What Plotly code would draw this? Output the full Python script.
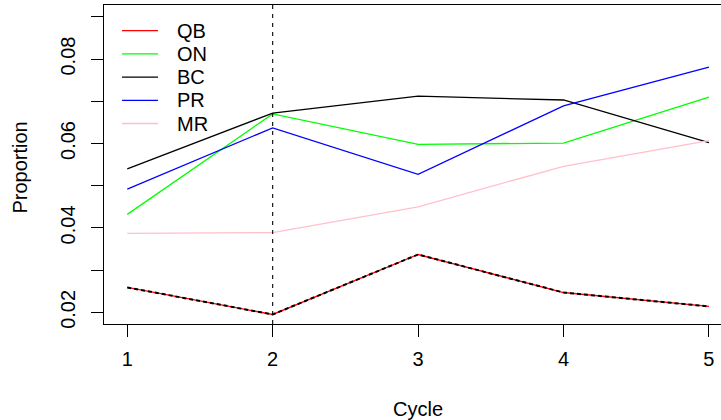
import plotly.graph_objects as go

# ---- data ----
cycles = [1, 2, 3, 4, 5]
qb = [0.0259, 0.0195, 0.0337, 0.0247, 0.0214]
on = [0.0432, 0.0670, 0.0598, 0.0601, 0.0710]
bc = [0.0540, 0.0672, 0.0712, 0.0703, 0.0602]
pr = [0.0492, 0.0637, 0.0527, 0.0689, 0.0781]
mr = [0.0387, 0.0389, 0.0450, 0.0546, 0.0607]
series_names = ["QB", "ON", "BC", "PR", "MR"]
series_colors = ["#FF0000", "#00FF00", "#000000", "#0000FF", "#FFC0CB"]
cutoff_cycle = 2
y_tick_vals = [0.02, 0.03, 0.04, 0.05, 0.06, 0.07, 0.08, 0.09]
y_tick_text = ["0.02", "", "0.04", "", "0.06", "", "0.08", ""]
x_tick_vals = [1, 2, 3, 4, 5]

FONT = "Liberation Sans, Arial, Helvetica, sans-serif"
FS = 20
LW = 1.3
W, H = 721, 420
ML, MR_, MT, MB = 104, 0, 5, 96
PW, PH = W - ML - MR_, H - MT - MB


def px_x(p):
    return (p - ML) / PW


def px_y(p):
    return 1 - (p - MT) / PH


fig = go.Figure()
for name, vals, col in zip(series_names, [qb, on, bc, pr, mr], series_colors):
    fig.add_trace(go.Scatter(x=cycles, y=vals, mode="lines", name=name,
                             line=dict(color=col, width=LW), showlegend=False))
# dashed black overlay on QB
fig.add_trace(go.Scatter(x=cycles, y=qb, mode="lines", showlegend=False,
                         line=dict(color="black", width=2, dash="4px,3px"),
                         hoverinfo="skip"))

annotations = [
    dict(text="Cycle", xref="x", x=3, yref="paper", y=0, yshift=-85,
         xanchor="center", yanchor="middle", showarrow=False,
         font=dict(size=FS)),
    dict(text="Proportion", xref="paper", x=0, xshift=-84, yref="y", y=0.055,
         yshift=-3, xanchor="center", yanchor="middle", textangle=-90,
         showarrow=False, font=dict(size=FS)),
]

fig.update_layout(
    width=W, height=H,
    margin=dict(l=ML, r=MR_, t=MT, b=MB),
    paper_bgcolor="white", plot_bgcolor="white",
    font=dict(family=FONT, size=FS, color="black"),
    showlegend=False,
    annotations=annotations,
)

# legend (R style, no box)
leg_top, leg_step = 30.7, 23.2
for i, (name, col) in enumerate(zip(series_names, series_colors)):
    yc = px_y(leg_top + i * leg_step)
    fig.add_shape(type="line", xref="paper", yref="paper",
                  x0=px_x(122), x1=px_x(158), y0=yc, y1=yc,
                  line=dict(color=col, width=LW))
    fig.add_annotation(text=name, xref="paper", yref="paper",
                       x=px_x(175), y=yc, xanchor="left", yanchor="middle",
                       showarrow=False, font=dict(size=FS))

fig.add_vline(x=cutoff_cycle, line=dict(color="black", width=1.1, dash="4px,5px"))

fig.update_xaxes(range=[0.84, 5.083], tickvals=x_tick_vals, ticks="outside",
                 ticklen=12, tickwidth=1.2, tickcolor="black",
                 showline=True, linecolor="black", linewidth=1.2, mirror=True,
                 showgrid=False, zeroline=False, ticklabelstandoff=5)
fig.update_yaxes(range=[0.01724, 0.0928], tickvals=y_tick_vals, ticktext=y_tick_text,
                 ticks="outside", ticklen=12, tickwidth=1.2, tickcolor="black",
                 tickangle=-90, showline=True, linecolor="black", linewidth=1.2,
                 showgrid=False, zeroline=False, ticklabelstandoff=8)

fig.write_html("out.html")
